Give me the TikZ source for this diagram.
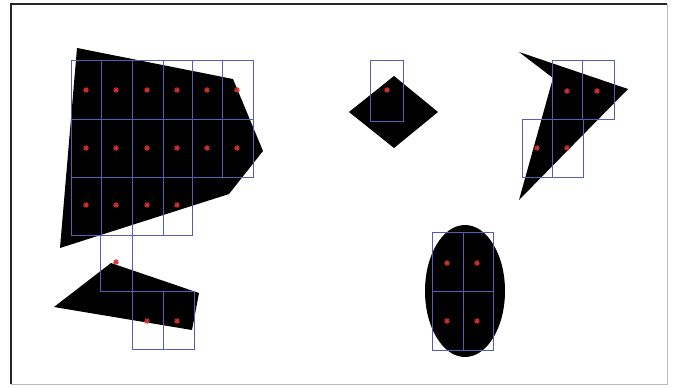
\documentclass[tikz,border=0pt]{standalone}
\begin{document}
\begin{tikzpicture}[x=1pt,y=-1pt]
\definecolor{boxblue}{RGB}{85,95,175}
\definecolor{markred}{RGB}{210,50,50}
\tikzset{
  shapefill/.style={fill=black, draw=none},
  gridbox/.style={draw=boxblue, line width=0.9pt},
  redmark/.pic={\draw[markred, line width=1pt] (-3,0) -- (3,0) (0,-3) -- (0,3) (-2.1,-2.1) -- (2.1,2.1) (-2.1,2.1) -- (2.1,-2.1);}
}
\useasboundingbox (0,0) rectangle (677,388);
\fill[white] (0,0) rectangle (677,388);
% frame
\draw[gray!55, line width=1pt] (667,4) -- (667,384) -- (11,384);
\draw[black!85, line width=1.6pt] (11,384) -- (11,4) -- (667,4);
% shapes
\fill[shapefill] (77,48) -- (233,79) -- (263,151) -- (229,194) -- (60,248) -- cycle;
\fill[shapefill] (54,307) -- (111,263) -- (199,293) -- (192,330) -- cycle;
\fill[shapefill] (394,76) -- (438,112) -- (394,148) -- (349,112) -- cycle;
\fill[shapefill] (519,52) -- (628,89) -- (519,200) -- (553,78) -- cycle;
\fill[shapefill] (465,291) ellipse [x radius=40, y radius=66];
% grid boxes: big polygon
\foreach \xa/\xb in {71/101,101/132,132/163,163/192,192/222,222/253} {
  \draw[gridbox] (\xa,60) rectangle (\xb,119);
  \draw[gridbox] (\xa,119) rectangle (\xb,177);
}
\foreach \xa/\xb in {71/101,101/132,132/163,163/192} {
  \draw[gridbox] (\xa,177) rectangle (\xb,235);
}
% small quad
\draw[gridbox] (100,235) rectangle (132,291);
\draw[gridbox] (132,291) rectangle (163,349);
\draw[gridbox] (163,291) rectangle (194,349);
% diamond
\draw[gridbox] (370,60) rectangle (403,121);
% arrow
\draw[gridbox] (552,60) rectangle (582,119);
\draw[gridbox] (582,60) rectangle (614,119);
\draw[gridbox] (522,119) rectangle (552,177);
\draw[gridbox] (552,119) rectangle (583,177);
% ellipse
\draw[gridbox] (432,232) rectangle (463,291);
\draw[gridbox] (463,232) rectangle (493,291);
\draw[gridbox] (432,291) rectangle (463,350);
\draw[gridbox] (463,291) rectangle (493,350);
% markers
\foreach \x in {86,116,147,177,207,237} {
  \pic at (\x,90) {redmark};
  \pic at (\x,148) {redmark};
}
\foreach \x in {86,116,147,177} { \pic at (\x,205) {redmark}; }
\foreach \p in {(116,262),(147,321),(177,321),(387,90),(567,91),(597,91),(537,148),(567,148),(447,263),(477,263),(447,321),(477,321)} {
  \pic at \p {redmark};
}
\end{tikzpicture}
\end{document}
